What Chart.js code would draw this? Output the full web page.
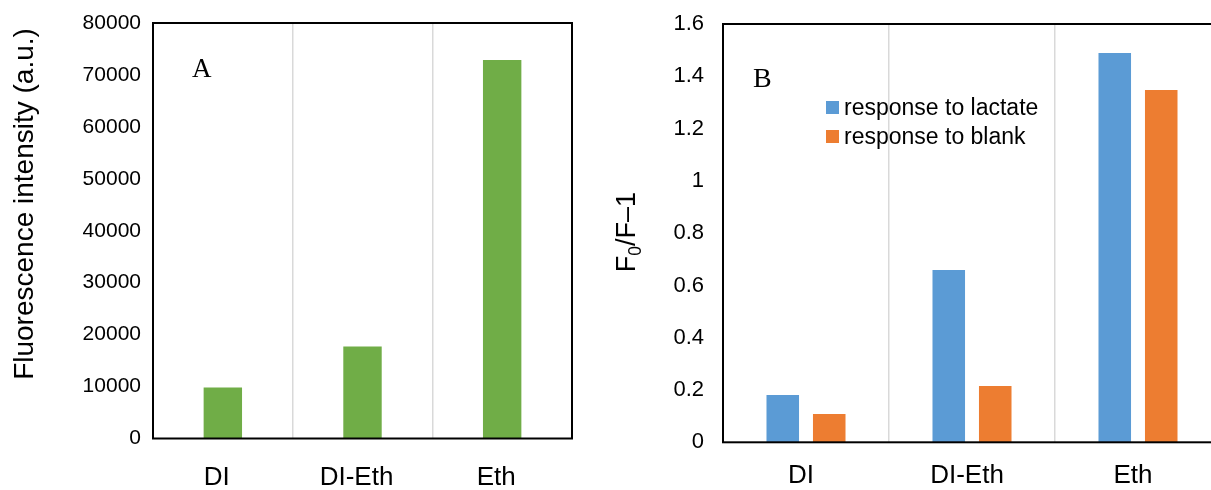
<!DOCTYPE html>
<html>
<head>
<meta charset="utf-8">
<script src="https://cdn.jsdelivr.net/npm/chart.js@4.4.0/dist/chart.umd.min.js"></script>
<style>
  html, body { margin: 0; padding: 0; background: #fff; overflow: hidden; width: 1211px; height: 490px; }
  #wrapA { position: absolute; left: 0; top: 0; width: 600px; height: 490px; }
  #wrapB { position: absolute; left: 600px; top: 0; width: 640px; height: 490px; }
</style>
</head>
<body>
<div id="wrapA"><canvas id="chartA"></canvas></div>
<div id="wrapB"><canvas id="chartB"></canvas></div>
<script>
// Sample categories
const categories = ['DI', 'DI-Eth', 'Eth'];

// Panel A: fluorescence intensity of each sample
const fluorescence = [9800, 17700, 72900];
const fluorescenceTicks = [0, 10000, 20000, 30000, 40000, 50000, 60000, 70000, 80000];

// Panel B: quenching response F0/F - 1
const lactateResponse = [0.181, 0.659, 1.489];
const blankResponse = [0.108, 0.215, 1.348];
const responseTicks = [0, 0.2, 0.4, 0.6, 0.8, 1, 1.2, 1.4, 1.6];

const seriesNames = ['response to lactate', 'response to blank'];

const SANS = "'Liberation Sans', Arial, sans-serif";
const SERIF = "'Liberation Serif', 'Times New Roman', serif";

// Black box around the plotting area
const framePlugin = {
  id: 'frame',
  afterDatasetsDraw(chart) {
    const { ctx, chartArea: a } = chart;
    ctx.save();
    ctx.strokeStyle = '#000';
    ctx.lineWidth = 2;
    ctx.strokeRect(a.left, a.top, a.right - a.left, a.bottom - a.top);
    ctx.restore();
  }
};

// Panel letter, rotated y-axis title and optional in-plot legend
const annotatePlugin = {
  id: 'annotate',
  afterDraw(chart, args, opts) {
    const ctx = chart.ctx;
    ctx.save();
    ctx.fillStyle = '#000';
    // panel letter
    ctx.font = opts.letterSize + 'px ' + SERIF;
    ctx.textAlign = 'left';
    ctx.textBaseline = 'alphabetic';
    ctx.fillText(opts.letter, opts.letterX, opts.letterY);

    // y-axis title (pieces allow a subscript)
    ctx.save();
    ctx.translate(opts.titleX, opts.titleY);
    ctx.rotate(-Math.PI / 2);
    const parts = opts.titleParts;
    let total = 0;
    parts.forEach(p => {
      ctx.font = (p.sub ? opts.titleSize * 0.65 : opts.titleSize) + 'px ' + SANS;
      p.w = ctx.measureText(p.text).width;
      total += p.w;
    });
    let x = -total / 2;
    ctx.textAlign = 'left';
    parts.forEach(p => {
      ctx.font = (p.sub ? opts.titleSize * 0.65 : opts.titleSize) + 'px ' + SANS;
      ctx.fillText(p.text, x, p.sub ? opts.titleSize * 0.22 : 0);
      x += p.w;
    });
    ctx.restore();

    // legend
    if (opts.legend) {
      ctx.font = opts.legend.size + 'px ' + SANS;
      ctx.textAlign = 'left';
      chart.data.datasets.forEach((ds, i) => {
        const y = opts.legend.y + i * opts.legend.gap;
        ctx.fillStyle = ds.backgroundColor;
        ctx.fillRect(opts.legend.x, y - 14, 13, 13);
        ctx.fillStyle = '#000';
        ctx.fillText(ds.label, opts.legend.x + 18, y);
      });
    }
    ctx.restore();
  }
};

function xScale(padding, height, shift) {
  return {
    type: 'category',
    offset: true,
    grid: { display: true, offset: true, drawTicks: false, color: '#d9d9d9', lineWidth: 1.5 },
    border: { display: false },
    ticks: { color: '#000', font: { family: SANS, size: 26 }, padding: padding, maxRotation: 0, labelOffset: shift },
    afterFit: s => { s.height = height; s.paddingLeft = 0; s.paddingRight = 0; }
  };
}

function yScale(tickArr, size, padding, width, fmt) {
  return {
    min: tickArr[0],
    max: tickArr[tickArr.length - 1],
    grid: { display: false, drawTicks: false },
    border: { display: false },
    ticks: { stepSize: tickArr[1] - tickArr[0], color: '#000', font: { family: SANS, size: size }, padding: padding, callback: fmt },
    afterFit: s => { s.width = width; s.paddingTop = 0; s.paddingBottom = 0; }
  };
}

new Chart(document.getElementById('chartA'), {
  type: 'bar',
  data: {
    labels: categories,
    datasets: [{ data: fluorescence, backgroundColor: '#70AD47', categoryPercentage: 0.55, barPercentage: 0.5 }]
  },
  options: {
    responsive: true,
    maintainAspectRatio: false,
    animation: false,
    layout: { padding: { top: 23, left: 0, right: 28, bottom: 0 } },
    plugins: {
      legend: { display: false },
      tooltip: { enabled: false },
      annotate: {
        letter: 'A', letterSize: 27, letterX: 192, letterY: 77,
        titleX: 33, titleY: 204, titleSize: 28,
        titleParts: [{ text: 'Fluorescence intensity (a.u.)' }]
      }
    },
    scales: {
      x: xScale(24, 51.5, -6),
      y: yScale(fluorescenceTicks, 21, 12, 153, v => String(v))
    }
  },
  plugins: [framePlugin, annotatePlugin]
});

new Chart(document.getElementById('chartB'), {
  type: 'bar',
  data: {
    labels: categories,
    datasets: [
      { label: seriesNames[0], data: lactateResponse, backgroundColor: '#5B9BD5', categoryPercentage: 0.56, barPercentage: 0.7 },
      { label: seriesNames[1], data: blankResponse, backgroundColor: '#ED7D31', categoryPercentage: 0.56, barPercentage: 0.7 }
    ]
  },
  options: {
    responsive: true,
    maintainAspectRatio: false,
    animation: false,
    layout: { padding: { top: 24, left: 0, right: 19, bottom: 0 } },
    plugins: {
      legend: { display: false },
      tooltip: { enabled: false },
      annotate: {
        letter: 'B', letterSize: 28, letterX: 153, letterY: 87,
        titleX: 35, titleY: 232, titleSize: 27,
        titleParts: [{ text: 'F' }, { text: '0', sub: true }, { text: '/F\u20131' }],
        legend: { x: 226, y: 115, gap: 29, size: 23 }
      }
    },
    scales: {
      x: xScale(18, 47.7, -5),
      y: yScale(responseTicks, 22, 19, 123, v => String(+Number(v).toFixed(1)))
    }
  },
  plugins: [framePlugin, annotatePlugin]
});
</script>
</body>
</html>
